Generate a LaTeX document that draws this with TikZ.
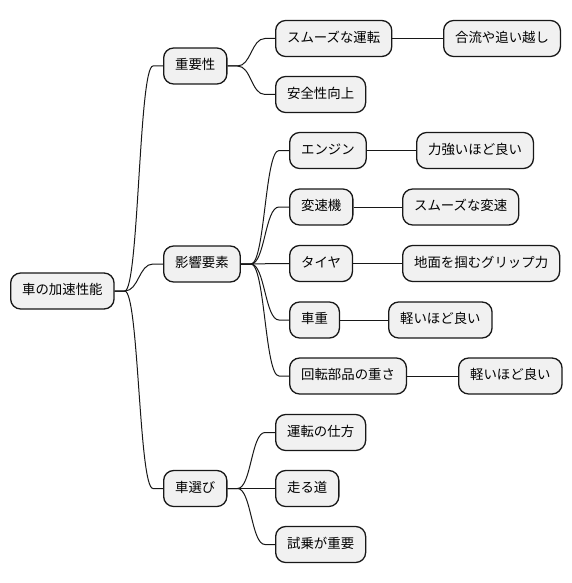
\documentclass[tikz,border=0pt]{standalone}
\usepackage{fontspec}
\setmainfont{Noto Sans CJK JP}
\usetikzlibrary{calc}
\definecolor{boxfill}{HTML}{F1F1F1}
\definecolor{ink}{HTML}{181818}
\tikzset{
  mmbox/.style={draw=ink, fill=boxfill, line width=1.3pt, rounded corners=10pt,
    minimum height=36pt, inner xsep=11.5pt, inner ysep=0pt, anchor=west,
    text height=0.86em, text depth=0.14em, font=\fontsize{13.4pt}{16pt}\selectfont, text=black},
  mmline/.style={draw=ink, line width=1pt}
}
\newcommand\mmcurve[2]{%
  \draw[mmline] let \p1=(#1.east), \p2=(#2.west), \n1={(\x1+\x2)/2} in
    (\p1) -- ++(10pt,0) .. controls (\n1,\y1) and (\n1,\y2) .. ($(\p2)+(-10pt,0)$) -- (\p2);}
\newcommand\mmstraight[2]{\draw[mmline] (#1.east) -- (#2.west);}
\begin{document}
\begin{tikzpicture}[x=1pt,y=-1pt]
\useasboundingbox (0,0) rectangle (572,583);
% root
\node[mmbox] (root) at (10,291) {車の加速性能};
% level 1
\node[mmbox] (imp) at (163,66) {重要性};
\node[mmbox] (fac) at (163,264) {影響要素};
\node[mmbox] (sel) at (163,488.5) {車選び};
% under imp
\node[mmbox] (smooth) at (275,38.5) {スムーズな運転};
\node[mmbox] (merge) at (443,38.5) {合流や追い越し};
\node[mmbox] (safe) at (275,94.5) {安全性向上};
% under fac
\node[mmbox] (eng) at (289,150.5) {エンジン};
\node[mmbox] (engc) at (416,150.5) {力強いほど良い};
\node[mmbox] (trans) at (289,207) {変速機};
\node[mmbox] (transc) at (402,207) {スムーズな変速};
\node[mmbox] (tire) at (289,263.5) {タイヤ};
\node[mmbox] (tirec) at (402,263.5) {地面を掴むグリップ力};
\node[mmbox] (wt) at (289,320) {車重};
\node[mmbox] (wtc) at (388,320) {軽いほど良い};
\node[mmbox] (rot) at (289,376) {回転部品の重さ};
\node[mmbox] (rotc) at (458,376) {軽いほど良い};
% under sel
\node[mmbox] (drive) at (275,432.5) {運転の仕方};
\node[mmbox] (road) at (275,488.5) {走る道};
\node[mmbox] (test) at (275,544.5) {試乗が重要};
% connectors
\mmcurve{root}{imp}
\mmcurve{root}{fac}
\mmcurve{root}{sel}
\mmcurve{imp}{smooth}
\mmcurve{imp}{safe}
\mmcurve{fac}{eng}
\mmcurve{fac}{trans}
\mmcurve{fac}{tire}
\mmcurve{fac}{wt}
\mmcurve{fac}{rot}
\mmcurve{sel}{drive}
\mmcurve{sel}{road}
\mmcurve{sel}{test}
\mmstraight{smooth}{merge}
\mmstraight{eng}{engc}
\mmstraight{trans}{transc}
\mmstraight{tire}{tirec}
\mmstraight{wt}{wtc}
\mmstraight{rot}{rotc}
\end{tikzpicture}
\end{document}
